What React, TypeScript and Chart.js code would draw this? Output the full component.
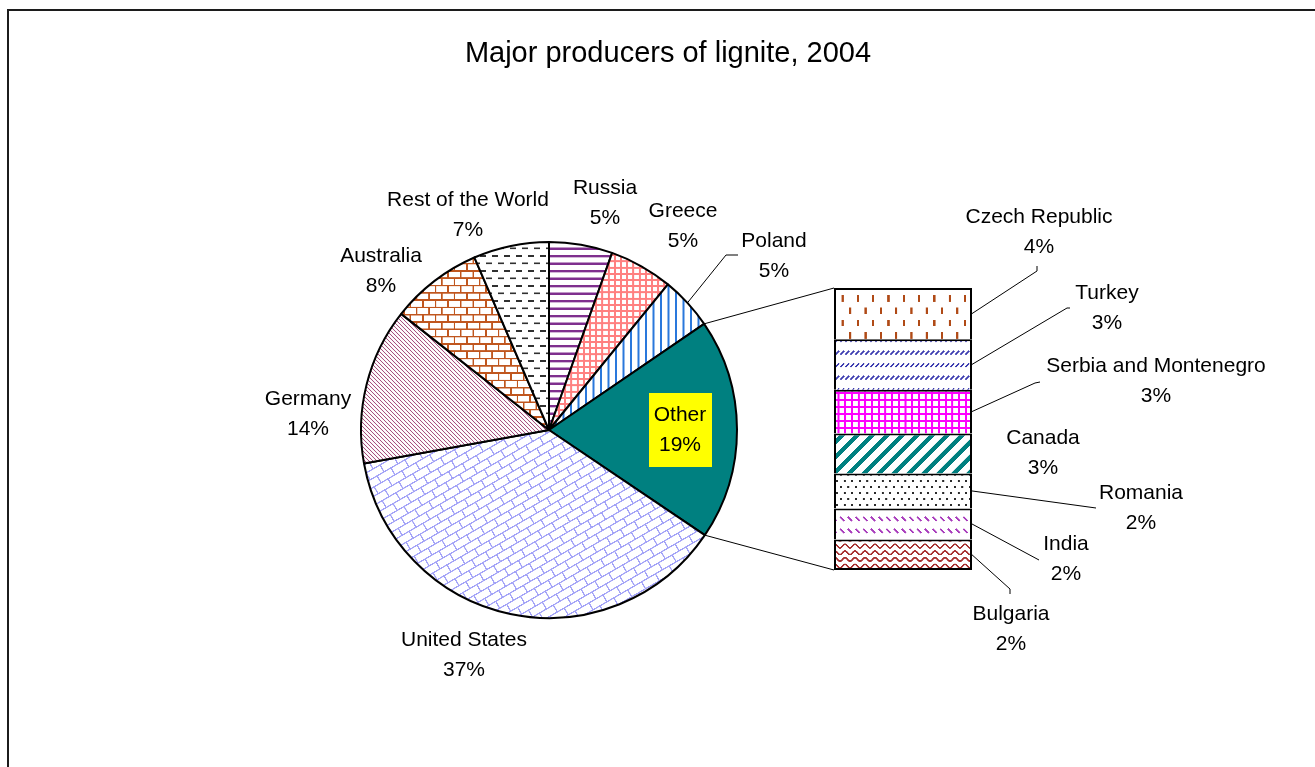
import React, { useEffect, useRef } from "react";
import { Chart, registerables } from "chart.js";

Chart.register(...registerables);

// ---------- data ----------
const TITLE = "Major producers of lignite, 2004";

const pieLabels = ["Russia", "Greece", "Poland", "Other", "United States", "Germany", "Australia", "Rest of the World"];
const pieValues = [5.45, 5.45, 4.55, 19.0, 37.7, 13.45, 7.9, 6.5];
const piePct = ["5%", "5%", "5%", "19%", "37%", "14%", "8%", "7%"];

const barLabels = ["Czech Republic", "Turkey", "Serbia and Montenegro", "Canada", "Romania", "India", "Bulgaria"];
const barValues = [3.45, 3.4, 2.95, 2.7, 2.35, 2.1, 2.05];
const barPct = ["4%", "3%", "3%", "3%", "2%", "2%", "2%"];

// ---------- layout ----------
const W = 1315;
const H = 767;
const FONT = '"Liberation Sans", Arial, sans-serif';
const LINE_GAP = 30;
const TEXT_SHIFT = 2;

// label centres relative to the pie centre
const pieLabelOffsets: [number, number][] = [
  [56, -229], [134, -206], [225, -175.5], [131, -2], [-85, 223.5], [-241, -18], [-168, -161], [-81, -216.5],
];
// label centres relative to the bar's top-right corner
const barLabelOffsets: [number, number][] = [
  [67, -58], [135, 18], [184, 91], [71, 163.5], [169, 218], [94, 269.5], [39, 339.5],
];
// leader polylines (after the start point on the bar edge), relative to bar top-right
const barLeaders: [number, number][][] = [
  [[65, -17], [65, -22]],
  [[95, 20], [98, 20]],
  [[63, 95], [68, 94]],
  [],
  [[124, 220]],
  [[67, 272]],
  [[38, 301], [38, 306]],
];

function makePattern(
  ctx: CanvasRenderingContext2D,
  w: number,
  h: number,
  draw: (c: CanvasRenderingContext2D, w: number, h: number) => void,
  angle = 0
): CanvasPattern {
  const S = 4;
  const cv = document.createElement("canvas");
  cv.width = Math.round(w * S);
  cv.height = Math.round(h * S);
  const c = cv.getContext("2d")!;
  c.scale(cv.width / w, cv.height / h);
  c.fillStyle = "#ffffff";
  c.fillRect(0, 0, w, h);
  draw(c, w, h);
  const p = ctx.createPattern(cv, "repeat")!;
  const m = new DOMMatrix().rotateSelf(angle).scaleSelf(w / cv.width, h / cv.height);
  p.setTransform(m);
  return p;
}

function strokeWrapped(c: CanvasRenderingContext2D, w: number, h: number, path: (c: CanvasRenderingContext2D) => void) {
  for (const dx of [-w, 0, w]) {
    for (const dy of [-h, 0, h]) {
      c.save();
      c.translate(dx, dy);
      c.beginPath();
      path(c);
      c.stroke();
      c.restore();
    }
  }
}

function piePatterns(ctx: CanvasRenderingContext2D): (CanvasPattern | string)[] {
  const russia = makePattern(ctx, 4, 7.5, (c, w) => {
    c.fillStyle = "#7f2f8e";
    c.fillRect(0, 0, w, 2.4);
  });
  const greece = makePattern(ctx, 6.2, 6.2, (c, w, h) => {
    c.fillStyle = "#ff8080";
    c.fillRect(0, 0, w, 2);
    c.fillRect(0, 0, 2, h);
  });
  const poland = makePattern(ctx, 7.5, 4, (c, w, h) => {
    c.fillStyle = "#2a78dc";
    c.fillRect(0, 0, 2, h);
  });
  const other = "#008080";
  const us = makePattern(
    ctx,
    16,
    16,
    (c, w, h) => {
      c.fillStyle = "#a3a3f7";
      c.fillRect(0, 0, w, 1.3);
      c.fillRect(0, 8, w, 1.3);
      c.fillRect(0, 0, 1.3, 8);
      c.fillRect(8, 8, 1.3, 8);
    },
    -30
  );
  const germany = makePattern(ctx, 4, 4, (c, w, h) => {
    c.strokeStyle = "#a8517f";
    c.lineWidth = 0.95;
    strokeWrapped(c, w, h, (cc) => {
      cc.moveTo(0, 0);
      cc.lineTo(w, h);
    });
  });
  const australia = makePattern(ctx, 12.6, 14.6, (c, w) => {
    c.fillStyle = "#c0561e";
    c.fillRect(0, 0, w, 1.6);
    c.fillRect(0, 7.3, w, 1.6);
    c.fillRect(0, 0, 1.6, 7.3);
    c.fillRect(6.3, 7.3, 1.6, 7.3);
  });
  const rest = makePattern(ctx, 12, 15, (c) => {
    c.fillStyle = "#303030";
    c.fillRect(0, 0, 6, 1.8);
    c.fillRect(6, 7.5, 6, 1.8);
  });
  return [russia, greece, poland, other, us, germany, australia, rest];
}

function barPatterns(ctx: CanvasRenderingContext2D): CanvasPattern[] {
  const czech = makePattern(ctx, 15.3, 24.6, (c) => {
    c.fillStyle = "#b04a16";
    c.fillRect(0, 0, 2.2, 6.5);
    c.fillRect(7.65, 12.3, 2.2, 6.5);
  });
  const turkey = makePattern(ctx, 5, 12.5, (c) => {
    c.strokeStyle = "#3c3cb0";
    c.lineWidth = 1.6;
    c.beginPath();
    c.moveTo(0.4, 4.6);
    c.lineTo(4.2, 0.8);
    c.stroke();
  });
  const serbia = makePattern(ctx, 6.7, 7, (c, w, h) => {
    c.fillStyle = "#ff00ff";
    c.fillRect(0, 0, w, 2);
    c.fillRect(0, 0, 2, h);
  });
  const canada = makePattern(
    ctx,
    10.6,
    2,
    (c, w, h) => {
      c.fillStyle = "#008080";
      c.fillRect(0, 0, 4.5, h);
    },
    45
  );
  const romania = makePattern(ctx, 7.6, 12, (c) => {
    c.fillStyle = "#2a2a2a";
    c.fillRect(0, 0, 2, 2);
    c.fillRect(3.8, 6, 2, 2);
  });
  const india = makePattern(ctx, 7.7, 12, (c) => {
    c.strokeStyle = "#a83cbc";
    c.lineWidth = 1.8;
    c.beginPath();
    c.moveTo(0.8, 0.8);
    c.lineTo(5, 5);
    c.stroke();
  });
  const bulgaria = makePattern(ctx, 10, 6.7, (c, w, h) => {
    c.strokeStyle = "#a83232";
    c.lineWidth = 1.6;
    strokeWrapped(c, w, h, (cc) => {
      for (let x = -1; x <= w + 1; x += 0.25) {
        const y = h / 2 + 1.8 * Math.cos((2 * Math.PI * x) / w);
        if (x === -1) cc.moveTo(x, y);
        else cc.lineTo(x, y);
      }
    });
  });
  return [czech, turkey, serbia, canada, romania, india, bulgaria];
}

function twoLines(ctx: CanvasRenderingContext2D, a: string, b: string, x: number, y: number) {
  ctx.fillText(a, x, y - LINE_GAP / 2 + TEXT_SHIFT);
  ctx.fillText(b, x, y + LINE_GAP / 2 + TEXT_SHIFT);
}

export default function App() {
  const pieRef = useRef<HTMLCanvasElement>(null);
  const barRef = useRef<HTMLCanvasElement>(null);

  useEffect(() => {
    const pieCanvas = pieRef.current!;
    const barCanvas = barRef.current!;
    const pctx = pieCanvas.getContext("2d")!;
    const bctx = barCanvas.getContext("2d")!;

    const pieDecor = {
      id: "pieDecor",
      afterDraw(chart: any) {
        const ctx = chart.ctx as CanvasRenderingContext2D;
        const arcs = chart.getDatasetMeta(0).data;
        const cx = arcs[0].x;
        const cy = arcs[0].y;
        ctx.save();
        // frame
        ctx.fillStyle = "#1c1c1c";
        ctx.fillRect(7, 9, W - 7, 2);
        ctx.fillRect(7, 9, 2, H - 9);
        // title
        ctx.fillStyle = "#000";
        ctx.textAlign = "center";
        ctx.textBaseline = "middle";
        ctx.font = `29px ${FONT}`;
        ctx.fillText(TITLE, 668, 54);
        // Poland leader
        const pol = arcs[2];
        const mid = (pol.startAngle + pol.endAngle) / 2;
        ctx.strokeStyle = "#000";
        ctx.lineWidth = 1;
        ctx.beginPath();
        ctx.moveTo(cx + pol.outerRadius * Math.cos(mid), cy + pol.outerRadius * Math.sin(mid));
        ctx.lineTo(cx + 177, cy - 175);
        ctx.lineTo(cx + 189, cy - 175);
        ctx.stroke();
        // labels
        ctx.font = `21px ${FONT}`;
        pieLabels.forEach((lab, i) => {
          const [dx, dy] = pieLabelOffsets[i];
          const x = cx + dx;
          const y = cy + dy;
          if (lab === "Other") {
            ctx.fillStyle = "#ffff00";
            ctx.fillRect(x - 31, y - 35, 63, 74);
          }
          ctx.fillStyle = "#000";
          twoLines(ctx, lab, piePct[i], x, y);
        });
        ctx.restore();
      },
    };

    const pie = new Chart(pieCanvas, {
      type: "pie",
      data: {
        labels: pieLabels,
        datasets: [
          {
            data: pieValues,
            backgroundColor: piePatterns(pctx) as any,
            borderColor: "#000",
            borderWidth: 2,
            radius: 188,
          } as any,
        ],
      },
      options: {
        responsive: false,
        animation: false,
        events: [],
        radius: 188,
        layout: { padding: { left: 349, right: W - 749, top: 230, bottom: H - 630 } },
        plugins: { legend: { display: false }, title: { display: false }, tooltip: { enabled: false } },
      } as any,
      plugins: [pieDecor],
    });

    const n = barLabels.length;
    const total = barValues.reduce((a, b) => a + b, 0);
    const pats = barPatterns(bctx);
    const datasets = barLabels
      .map((lab, i) => ({
        label: lab,
        data: [barValues[i]],
        backgroundColor: pats[i],
        borderColor: "#000",
        borderWidth: i === n - 1 ? 2 : { top: 2, left: 2, right: 2, bottom: 0 },
        borderSkipped: false,
        inflateAmount: 0,
        barPercentage: 1,
        categoryPercentage: 1,
      }))
      .reverse();

    const barDecor = {
      id: "barDecor",
      afterDraw(chart: any) {
        const ctx = chart.ctx as CanvasRenderingContext2D;
        const elOf = (i: number) => chart.getDatasetMeta(n - 1 - i).data[0];
        const top = elOf(0);
        const bottom = elOf(n - 1);
        const left = top.x - top.width / 2;
        const right = top.x + top.width / 2;
        const topY = top.y;
        const botY = bottom.base;
        ctx.save();
        ctx.strokeStyle = "#000";
        ctx.lineWidth = 1;
        // connectors from the "Other" slice
        const pm = pie.getDatasetMeta(0).data[3] as any;
        ctx.beginPath();
        ctx.moveTo(pm.x + pm.outerRadius * Math.cos(pm.startAngle), pm.y + pm.outerRadius * Math.sin(pm.startAngle));
        ctx.lineTo(left, topY);
        ctx.moveTo(pm.x + pm.outerRadius * Math.cos(pm.endAngle), pm.y + pm.outerRadius * Math.sin(pm.endAngle));
        ctx.lineTo(left, botY);
        ctx.stroke();
        // leaders and labels
        ctx.fillStyle = "#000";
        ctx.textAlign = "center";
        ctx.textBaseline = "middle";
        ctx.font = `21px ${FONT}`;
        barLabels.forEach((lab, i) => {
          const el = elOf(i);
          const midY = (el.y + el.base) / 2;
          const pts = barLeaders[i];
          if (pts.length) {
            ctx.beginPath();
            ctx.moveTo(right, midY);
            pts.forEach(([dx, dy]) => ctx.lineTo(right + dx, topY + dy));
            ctx.stroke();
          }
          const [lx, ly] = barLabelOffsets[i];
          twoLines(ctx, lab, barPct[i], right + lx, topY + ly);
        });
        ctx.restore();
      },
    };

    const bar = new Chart(barCanvas, {
      type: "bar",
      data: { labels: ["Other"], datasets: datasets as any },
      options: {
        responsive: false,
        animation: false,
        events: [],
        layout: { padding: { left: 834, right: W - 972, top: 288, bottom: H - 570 } },
        scales: {
          x: { stacked: true, display: false },
          y: { stacked: true, display: false, min: 0, max: total },
        },
        plugins: { legend: { display: false }, title: { display: false }, tooltip: { enabled: false } },
      } as any,
      plugins: [barDecor],
    });

    return () => {
      bar.destroy();
      pie.destroy();
    };
  }, []);

  return (
    <div style={{ position: "fixed", left: 0, top: 0, width: W, height: H, background: "#fff", overflow: "hidden" }}>
      <canvas ref={pieRef} width={W} height={H} style={{ position: "absolute", left: 0, top: 0, width: W, height: H }} />
      <canvas ref={barRef} width={W} height={H} style={{ position: "absolute", left: 0, top: 0, width: W, height: H }} />
    </div>
  );
}
